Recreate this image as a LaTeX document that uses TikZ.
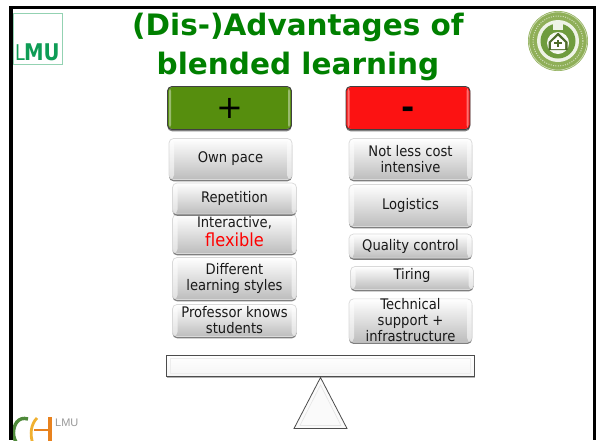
\documentclass[tikz,border=0pt]{standalone}
\usepackage{fontspec}
\usepackage{graphicx}
\setmainfont{DejaVu Sans}
\newfontfamily\condfont{DejaVu Sans Condensed}
\newfontfamily\logofont{Liberation Sans}
\usetikzlibrary{shadows,calc}
\definecolor{titlegreen}{HTML}{008000}
\definecolor{lmugreen}{HTML}{0E9C55}
\definecolor{plusgreen}{HTML}{568E0E}
\definecolor{minusred}{HTML}{FC1212}
\definecolor{ringolive}{HTML}{8FAF58}
\definecolor{embgreen}{HTML}{6F9C3E}
\definecolor{cgreen}{HTML}{4F8A3A}
\definecolor{hyellow}{HTML}{F0B030}
\definecolor{horange}{HTML}{E8821E}
\tikzset{
  x=1pt,y=-1pt,
  gelbase/.style={rectangle,rounded corners=4.5pt,inner sep=0pt,align=center,text=black!90,
    drop shadow={shadow xshift=0pt,shadow yshift=-1.8pt,opacity=.5,fill=black}},
  gelbox/.style={gelbase,draw=gray!30,line width=.7pt,top color=white,bottom color=gray!52,
    font=\condfont\fontsize{14.6}{16}\selectfont,
    path picture={
      \fill[white,opacity=.55] (path picture bounding box.north west) rectangle ([xshift=5pt]path picture bounding box.south west);
      \fill[white,opacity=.55] (path picture bounding box.north east) rectangle ([xshift=-5pt]path picture bounding box.south east);
    }},
  headbox/.style={gelbase,draw=black!75,line width=.9pt,font=\fontsize{32}{32}\selectfont,text=black,
    path picture={
      \fill[white,opacity=.4] ([xshift=1.5pt]path picture bounding box.north west) rectangle ([xshift=3.5pt]path picture bounding box.south west);
      \fill[white,opacity=.4] ([xshift=-1.5pt]path picture bounding box.north east) rectangle ([xshift=-3.5pt]path picture bounding box.south east);
    }},
  titletext/.style={font=\bfseries\fontsize{29.5}{39}\selectfont,text=titlegreen,align=center,inner sep=0pt},
  framebar/.style={fill=black,draw=none},
  beambox/.style={rectangle,draw=black!70,line width=.9pt,top color=white,bottom color=gray!8,inner sep=0pt,
    drop shadow={shadow xshift=0pt,shadow yshift=-1.2pt,opacity=.3,fill=black},
    path picture={
      \draw[gray!14,line width=.7pt] ([shift={(4pt,3pt)}]path picture bounding box.south west) rectangle ([shift={(-4pt,-3pt)}]path picture bounding box.north east);
    }},
}
\begin{document}
\begin{tikzpicture}
\useasboundingbox[fill=white] (0,0) rectangle (599,440);
% CH logo
\begin{scope}
\clip (0,400) rectangle (120,440);
\draw[cgreen,line width=3.4pt] (28,419) .. controls (18,416) and (13.5,425) .. (13.5,433) .. controls (13.5,437) and (15,441) .. (18,445);
\draw[hyellow,line width=2.8pt] (37,418) .. controls (31,424) and (29.5,434) .. (33,444);
\draw[horange,line width=4pt] (49.5,417) -- (49.5,441);
\draw[horange,line width=2pt] (34,429.5) -- (49.5,429.5);
\end{scope}
\node[inner sep=0pt,anchor=base west,text=gray!80,font=\logofont\fontsize{11}{11}\selectfont] (chlmu) at (55,426) {LMU};
% frame
\fill[framebar] (9,6) rectangle (596,8.5);
\fill[framebar] (9,6) rectangle (12.5,440);
\fill[framebar] (592.5,6) rectangle (596,440);
% LMU logo
\draw[lmugreen!45,line width=.8pt] (13,13) rectangle (62,64);
\node[inner sep=0pt,anchor=base,text=lmugreen,font=\logofont\fontsize{23}{23}\selectfont] (lmu) at (37.5,60) {\scalebox{.78}[1]{L}\kern-1.2pt\scalebox{.95}[1]{\condfont\bfseries MU}};
% title
\node[titletext,anchor=base] (t1) at (298,35) {(Dis-)Advantages of};
\node[titletext,anchor=base] (t2) at (298,74) {blended learning};
% emblem
\fill[ringolive] (558,41) circle (30);
\draw[white!55!ringolive,line width=.7pt] (558,41) circle (29);
\draw[white!60!ringolive,line width=1pt,dash pattern=on 1pt off 1.4pt] (558,41) circle (25);
\fill[white!85!ringolive] (558,41) circle (21);
\fill[embgreen] (558,41) circle (17.5);
\fill[white!85!ringolive] (553,21) rectangle (563,30);
\fill[white!92!ringolive] (558,43) circle (11);
\fill[embgreen!70!black] (548.5,50) -- (548.5,42) -- (558,32.5) -- (567.5,42) -- (567.5,50) -- cycle;
\fill[white] (551,49) -- (551,42.5) -- (558,36) -- (565,42.5) -- (565,49) -- cycle;
\fill[embgreen!70!black] (557,39.5) rectangle (559,47);
\fill[embgreen!70!black] (554.3,42.3) rectangle (561.7,44.3);
% headers
\node[headbox,fill=plusgreen,minimum width=124pt,minimum height=43pt] (plus) at (229.5,108) {\kern1pt\raisebox{-2pt}{+}};
\node[headbox,fill=minusred,minimum width=124pt,minimum height=43pt] (minus) at (408,108) {\raisebox{-10.6pt}[0pt][0pt]{\bfseries -}};
% left column
\node[gelbox,minimum width=123pt,minimum height=41pt] (a) at (230.5,159) {Own pace};
\node[gelbox,minimum width=124pt,minimum height=39pt] (c) at (234.5,234) {\raisebox{1pt}{Interactive,}\\[1.5pt]\raisebox{0pt}[\height][\dimexpr\depth+5pt\relax]{\textcolor{red}{\fontsize{18}{18}\selectfont flexible}}};
\node[gelbox,minimum width=124pt,minimum height=31pt] (b) at (234.5,198.5) {Repetition};
\node[gelbox,minimum width=124pt,minimum height=42pt] (d) at (234.5,278.5) {Different\\learning styles};
\node[gelbox,minimum width=124pt,minimum height=32pt] (e) at (234.5,320.5) {Professor knows\\students};
% right column
\node[gelbox,minimum width=123pt,minimum height=41pt] (f) at (410.5,159) {Not less cost\\intensive};
\node[gelbox,minimum width=123pt,minimum height=42pt] (g) at (410.5,205.5) {Logistics};
\node[gelbox,minimum width=123pt,minimum height=24pt] (h) at (410.5,246) {Quality control};
\node[gelbox,minimum width=123pt,minimum height=23pt] (i) at (412,278) {\raisebox{9pt}{Tiring}};
\node[gelbox,minimum width=123pt,minimum height=42pt] (j) at (410.5,320.5) {Technical\\support +\\infrastructure};
% seesaw
\node[beambox,minimum width=308pt,minimum height=21pt] (beam) at (320.5,366) {};
\draw[draw=black!70,line width=.8pt,fill=gray!4,line join=miter] (320.5,377.5) -- (347,428.5) -- (294,428.5) -- cycle;
\draw[gray!20,line width=.6pt] (320.5,385) -- (341,425.5) -- (300,425.5) -- cycle;
\end{tikzpicture}
\end{document}
